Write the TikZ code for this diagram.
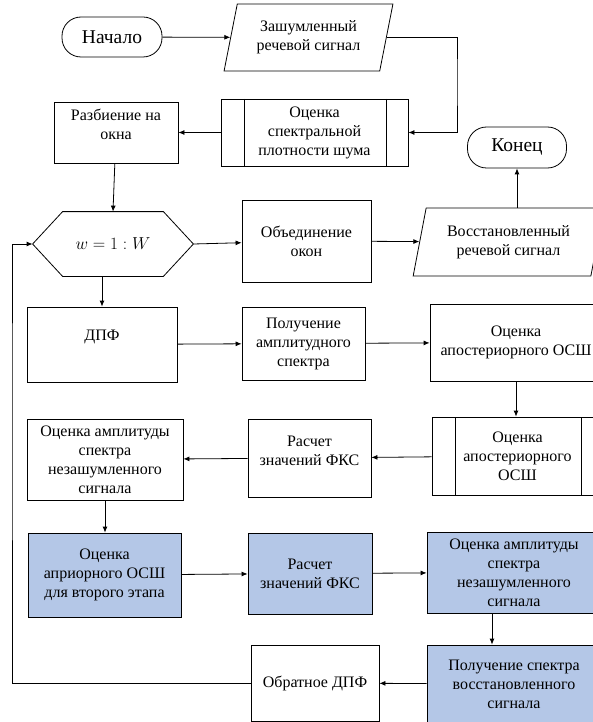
\documentclass[tikz,border=0pt]{standalone}
\usepackage{fontspec}
\setmainfont{Liberation Serif}
\usetikzlibrary{arrows.meta,shapes.geometric}
\definecolor{sinij}{HTML}{B4C7E7}
\tikzset{
	blok/.style={draw, rectangle, align=center, inner sep=2pt},
	term/.style={blok, rounded corners=19pt, font=\fontsize{19.5}{22}\selectfont},
	vvod/.style={draw, trapezium, trapezium left angle=75, trapezium right angle=105,
		trapezium stretches=true, align=center, inner sep=2pt},
	podprog/.style={blok, path picture={
		\draw ([xshift=23pt]path picture bounding box.north west) -- ([xshift=23pt]path picture bounding box.south west)
			([xshift=-22pt]path picture bounding box.north east) -- ([xshift=-22pt]path picture bounding box.south east);}},
	sinblok/.style={blok, fill=sinij}
}
\begin{document}
\begin{tikzpicture}[x=1pt, y=-1pt, line width=0.8pt, >={Latex[length=6pt,width=5pt]},
		every node/.style={font=\fontsize{16}{19}\selectfont}]
	\useasboundingbox (0,0) rectangle (593,722);
	\clip (0,0) rectangle (593,722);
	% verhnij rjad
	\node[term, minimum width=100pt, minimum height=40pt] (nach) at (112,37) {Начало};
	\node[vvod, minimum width=169pt, minimum height=67pt] (zash) at (308.5,37.5) {Зашумленный\\речевой сигнал};
	\node[podprog, minimum width=187pt, minimum height=67pt] (ocsp) at (314.5,132.5) {Оценка\\спектральной\\плотности шума};
	\node[blok, minimum width=124pt, minimum height=61pt, text depth=17pt] (razb) at (116,132.5) {Разбиение на\\окна};
	\node[term, minimum width=99pt, minimum height=41pt] (konec) at (517,147.5) {Конец};
	% cikl po oknam
	\node[minimum width=160pt, minimum height=64pt] (wcikl) at (113,244) {$w = 1 : W$};
	\draw (wcikl.west) -- ([xshift=30pt]wcikl.north west) -- ([xshift=-30pt]wcikl.north east) -- (wcikl.east)
		-- ([xshift=-30pt]wcikl.south east) -- ([xshift=30pt]wcikl.south west) -- cycle;
	\node[blok, minimum width=129pt, minimum height=82pt] (obed) at (306.5,241) {Объединение\\окон};
	\node[vvod, minimum width=191pt, minimum height=68pt] (vosst) at (508.5,242) {Восстановленный\\речевой сигнал};
	% pervyj etap
	\node[blok, minimum width=150pt, minimum height=75pt, text depth=18pt] (dpf) at (102,344.5) {ДПФ};
	\node[blok, minimum width=123pt, minimum height=73pt] (ampl) at (303.5,343.5) {Получение\\амплитудного\\спектра};
	\node[blok, minimum width=172pt, minimum height=77pt] (apost) at (516,342.5) {Оценка\\апостериорного ОСШ};
	\node[podprog, minimum width=171pt, minimum height=78pt] (apost2) at (517.5,456) {Оценка\\апостериорного\\ОСШ};
	\node[blok, minimum width=123pt, minimum height=78pt, text depth=15pt] (fks) at (309.5,458) {Расчет\\значений ФКС};
	\node[blok, minimum width=156pt, minimum height=81pt] (ocamp) at (105,459.5) {Оценка амплитуды\\спектра\\незашумленного\\сигнала};
	% vtoroj etap
	\node[sinblok, minimum width=153pt, minimum height=84pt] (aprior) at (104.5,575) {Оценка\\априорного ОСШ\\для второго этапа};
	\node[sinblok, minimum width=124pt, minimum height=81pt] (fks2) at (310,573.5) {Расчет\\значений ФКС};
	\node[sinblok, minimum width=174pt, minimum height=81pt] (ocamp2) at (514,572.5) {Оценка амплитуды\\спектра\\незашумленного\\сигнала};
	\node[sinblok, minimum width=174pt, minimum height=78pt] (polsp) at (514,684) {Получение спектра\\восстановленного\\сигнала};
	\node[blok, minimum width=128pt, minimum height=76pt] (odpf) at (315,683) {Обратное ДПФ};
	\coordinate (povorot) at (457,80);
	\coordinate (nazad) at (12,400);
	% strelki
	\draw[->] (nach) -- (zash);
	\draw[->] (zash.east) -| (povorot) |- (ocsp.east);
	\draw[->] (ocsp) -- (razb);
	\draw[->] (razb) -- (wcikl.north);
	\draw[->] (wcikl.east) -- (obed);
	\draw[->] (obed) -- (vosst);
	\draw[->] (vosst.north -| konec.south) -- (konec.south);
	\draw[->] (dpf.north |- wcikl.south) -- (dpf.north);
	\draw[->] (dpf) -- (ampl);
	\draw[->] (ampl) -- (apost);
	\draw[->] (apost.south) -- (apost.south |- apost2.north);
	\draw[->] (apost2) -- (fks);
	\draw[->] (fks) -- (ocamp);
	\draw[->] (ocamp.south) -- (ocamp.south |- aprior.north);
	\draw[->] (aprior) -- (fks2);
	\draw[->] (fks2) -- (ocamp2);
	\draw[->] ([xshift=-22pt]ocamp2.south) -- ([xshift=-22pt]polsp.north);
	\draw[->] (polsp) -- (odpf);
	\draw[->] (odpf.west) -| (nazad) |- (wcikl.west);
\end{tikzpicture}
\end{document}
